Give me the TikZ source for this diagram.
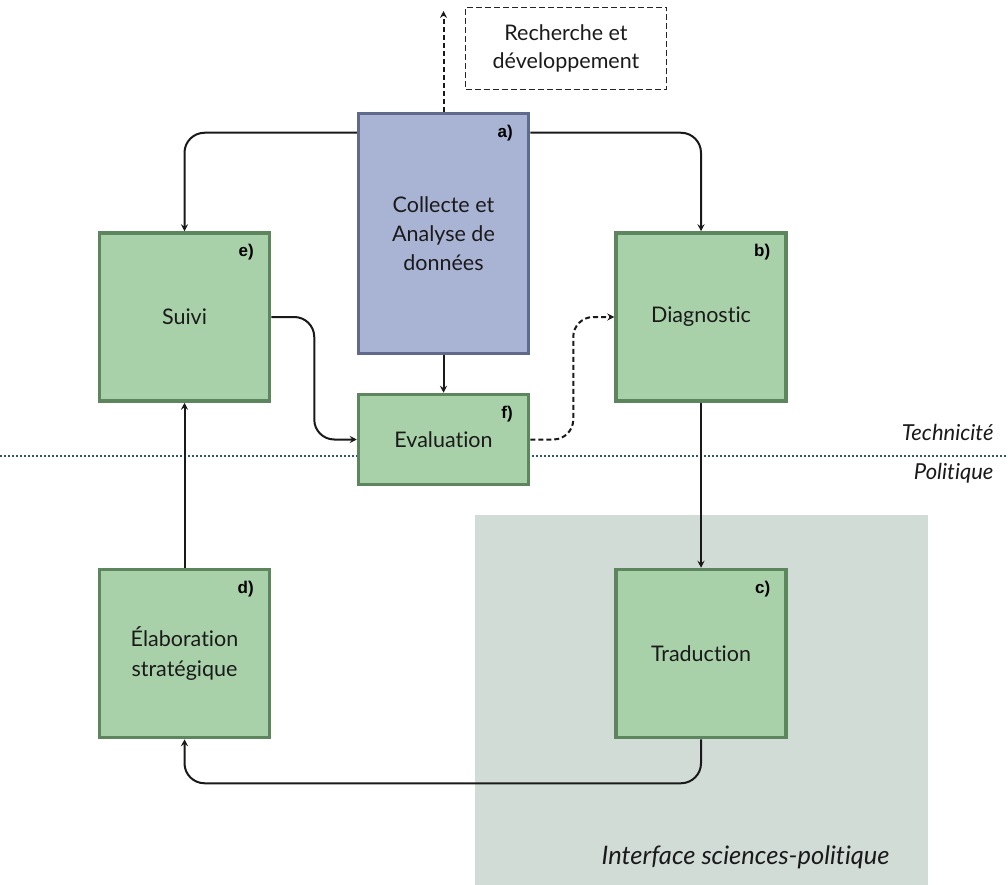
\documentclass[tikz,border=0pt]{standalone}
\usepackage{fontspec}
\setmainfont{Lato}[Ligatures={NoCommon,NoRare,NoDiscretionary},Contextuals=NoAlternate]
\newfontfamily\labfont{Liberation Sans}
\usetikzlibrary{arrows.meta}
\definecolor{gfill}{HTML}{A9D1A9}
\definecolor{gdraw}{HTML}{5E865E}
\definecolor{pfill}{HTML}{A9B3D3}
\definecolor{pdraw}{HTML}{5F6A8C}
\definecolor{zone}{HTML}{D2DCD7}
\definecolor{dotc}{HTML}{2E5E5A}
\definecolor{txt}{HTML}{1A1A1A}
\tikzset{
  gbox/.style={draw=gdraw, fill=gfill, line width=3.5pt, inner sep=0pt,
    minimum width=170pt, minimum height=168pt, align=center, text=txt,
    font=\fontsize{21.5}{29}\selectfont},
  pbox/.style={gbox, draw=pdraw, fill=pfill, minimum height=240pt},
  rdbox/.style={draw=black!85, dash pattern=on 6pt off 3pt, line width=1.6pt, inner sep=0pt,
    minimum width=201pt, minimum height=82pt, align=center, text=txt,
    font=\fontsize{21.5}{28}\selectfont},
  lab/.style={font=\labfont\bfseries\fontsize{17}{17}\selectfont, anchor=east, text=black},
  side/.style={font=\itshape\fontsize{22}{22}\selectfont, text=txt},
  arr/.style={-{Stealth[length=7pt,width=7pt,inset=2.5pt]}, line width=2pt, draw=black!90, rounded corners=20pt},
  darr/.style={arr, dash pattern=on 5pt off 3pt},
}
\begin{document}
\begin{tikzpicture}[x=1pt,y=-1pt]
\useasboundingbox (0,0) rectangle (1008,885);
% zone
\fill[zone] (475,515) rectangle (928,885);
\node[side, anchor=east, font=\itshape\fontsize{25.5}{25.5}\selectfont] (zlab) at (893,857) {Interface sciences-politique};
% dotted separator
\draw[dotc, line width=2.6pt, dash pattern=on 1.6pt off 2.4pt] (0,456) -- (1008,456);
\node[side, anchor=east] (tech) at (997,432) {Technicité};
\node[side, anchor=east] (pol) at (997,473) {Politique};
% boxes
\node[pbox] (a) at (443.5,233.5) {Collecte et\\Analyse de\\données};
\node[gbox] (e) at (184.5,317) {Suivi};
\node[gbox] (b) at (701,317) {Diagnostic};
\node[gbox, minimum height=90pt] (f) at (443.5,439.5) {Evaluation};
\node[gbox] (d) at (184.5,653.5) {Élaboration\\stratégique};
\node[gbox] (c) at (701,653.5) {Traduction};
\node[rdbox] (rd) at (566,48.5) {Recherche et\\développement};
% labels
\node[lab] (la) at ([xshift=-14pt,yshift=-21pt]a.north east) {a)};
\node[lab] (lb) at ([xshift=-14pt,yshift=-21pt]b.north east) {b)};
\node[lab] (lc) at ([xshift=-14pt,yshift=-21pt]c.north east) {c)};
\node[lab] (ld) at ([xshift=-14pt,yshift=-21pt]d.north east) {d)};
\node[lab] (le) at ([xshift=-14pt,yshift=-21pt]e.north east) {e)};
\node[lab] (lf) at ([xshift=-14pt,yshift=-21pt]f.north east) {f)};
% connectors
\coordinate (rdtop) at (443.5,11);
\draw[darr] (a.north) -- (rdtop);
\draw[arr] ([yshift=-21pt]a.north west) -| (e.north);
\draw[arr] ([yshift=-21pt]a.north east) -| (b.north);
\draw[arr] (e.east) -- ++(43,0) |- (f.west);
\draw[arr] (a.south) -- (f.north);
\draw[darr] (f.east) -- ++(43,0) |- (b.west);
\draw[arr] (b.south) -- (c.north);
\draw[arr] (c.south) -- ++(0,44) -| (d.south);
\draw[arr] (d.north) -- (e.south);
\end{tikzpicture}
\end{document}
